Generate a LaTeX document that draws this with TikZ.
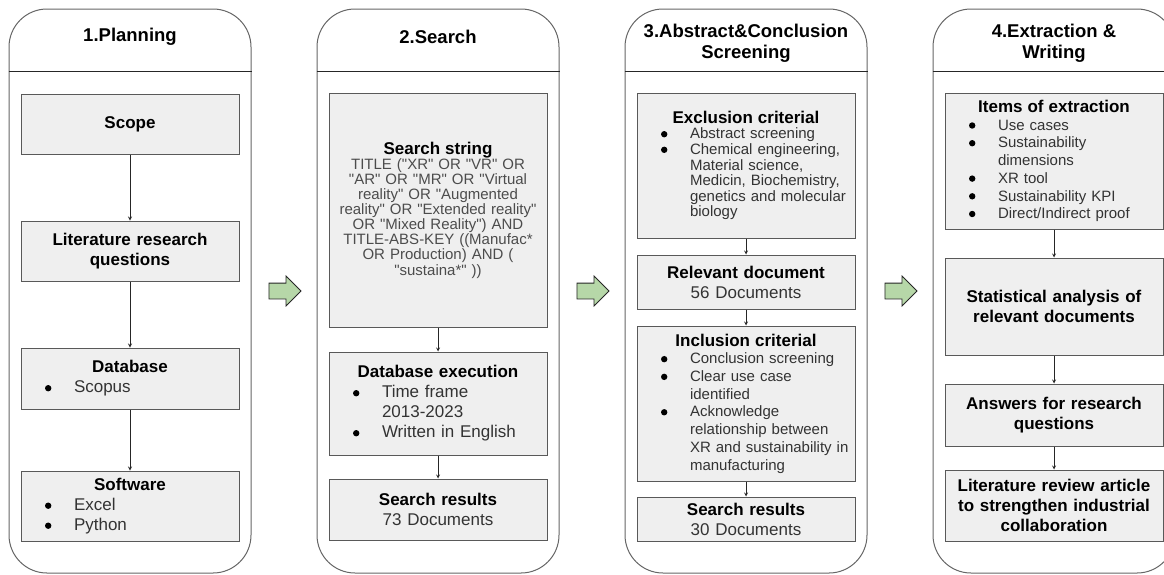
\documentclass[tikz,border=0pt]{standalone}
\usepackage{fontspec}
\newfontfamily\arial{Liberation Sans}
\usetikzlibrary{positioning,shapes.arrows}
\definecolor{leaf}{HTML}{B6D7A8}
\definecolor{boxfill}{HTML}{EFEFEF}
\definecolor{boxedge}{HTML}{595959}
\newcommand{\dotmark}{\raisebox{1.5pt}{\tikz\fill[black] (0,0) circle (3.2pt);}}
\newcommand{\bhead}[1]{{\centering\noindent\fontsize{17}{20}\selectfont\bfseries\color{black}#1\par}}
\newcommand{\bcen}[1]{{\centering\noindent#1\par}}
\newcommand{\bitem}[1]{\noindent\makebox[53pt][l]{\hspace{24pt}\dotmark}#1\par}
\newcommand{\bmore}[1]{\noindent\hspace*{53pt}#1\par}
\tikzstyle{lane} = [rectangle, rounded corners=38pt, draw=black!60, line width=1pt, minimum width=242pt, minimum height=564pt]
\tikzstyle{lanetitle} = [font=\arial\fontsize{18.5}{20.5}\selectfont\bfseries, align=center, inner sep=0pt]
\tikzstyle{process} = [rectangle, draw=boxedge, fill=boxfill, line width=1pt, minimum width=218pt, text width=218pt, inner xsep=0pt, inner ysep=0pt, align=left, text=black!80, font=\arial\fontsize{17}{20}\selectfont]
\tikzstyle{tightlist} = [font=\arial\fontsize{15}{15.6}\selectfont]
\tikzstyle{list} = [font=\arial\fontsize{15}{17.7}\selectfont]
\tikzstyle{query} = [text=black!70, font=\arial\fontsize{15}{15.1}\selectfont]
\tikzstyle{arrow} = [->,>=stealth, line width=0.8pt, black!85]
\tikzstyle{nextstep} = [single arrow, draw=black!85, fill=leaf, line width=0.8pt, minimum height=32pt, inner xsep=0pt, inner ysep=7.5pt, single arrow head extend=7pt, single arrow head indent=0pt, xshift=-3pt]

\begin{document}
\begin{tikzpicture}[x=1pt,y=-1pt]
\useasboundingbox (0,0) rectangle (1164,574);
% lanes
\node (plan) [lane] at (130,291) {};
\node (search) [lane, right=65pt of plan] {};
\node (screen) [lane, right=65pt of search] {};
\node (extract) [lane, right=65pt of screen] {};
\draw [line width=1pt, black!85] ([yshift=-63pt]plan.north west) -- ([yshift=-63pt]plan.north east);
\draw [line width=1pt, black!85] ([yshift=-63pt]search.north west) -- ([yshift=-63pt]search.north east);
\draw [line width=1pt, black!85] ([yshift=-63pt]screen.north west) -- ([yshift=-63pt]screen.north east);
\draw [line width=1pt, black!85] ([yshift=-63pt]extract.north west) -- ([yshift=-63pt]extract.north east);
\node (t1) [lanetitle] at ([yshift=-28pt]plan.north) {1.Planning};
\node (t2) [lanetitle] at ([yshift=-28pt]search.north) {2.Search};
\node (t3) [lanetitle] at ([yshift=-35pt]screen.north) {3.Abstract\&Conclusion\\Screening};
\node (t4) [lanetitle] at ([yshift=-35pt]extract.north) {4.Extraction \&\\Writing};
% 1.Planning
\node (scope) [process, minimum height=60pt, below=85pt of plan.north] {\bhead{Scope}};
\node (litrq) [process, minimum height=60pt, below=66pt of scope] {\bhead{Literature research}\bhead{questions}};
\node (db) [process, minimum height=61pt, below=66pt of litrq] {\bhead{Database}\bitem{Scopus}};
\node (soft) [process, minimum height=70pt, below=61pt of db] {\bhead{Software}\bitem{Excel}\bitem{Python}};
% 2.Search
\node (string) [process, query, minimum height=234pt, below=84pt of search.north] {\bhead{Search string}\bcen{TITLE ("XR" OR "VR" OR}\bcen{"AR" OR "MR" OR "Virtual}\bcen{reality" OR "Augmented}\bcen{reality" OR "Extended reality"}\bcen{OR "Mixed Reality") AND}\bcen{TITLE-ABS-KEY ((Manufac*}\bcen{OR Production) AND (}\bcen{"sustaina*" ))}};
\node (exec) [process, minimum height=103pt, below=24pt of string] {\bhead{Database execution}\bitem{Time frame}\bmore{2013-2023}\bitem{Written in English}};
\node (found) [process, minimum height=61pt, below=23pt of exec] {\bhead{Search results}\bcen{73 Documents}};
% 3.Screening
\node (excl) [process, tightlist, minimum height=145pt, below=84pt of screen.north] {\bhead{Exclusion criterial}\bitem{Abstract screening}\bitem{Chemical engineering,}\bmore{Material science,}\bmore{Medicin, Biochemistry,}\bmore{genetics and molecular}\bmore{biology}};
\node (rel) [process, minimum height=54pt, below=16pt of excl] {\bhead{Relevant document}\bcen{56 Documents}};
\node (incl) [process, list, minimum height=155pt, below=16pt of rel] {\bhead{Inclusion criterial}\bitem{Conclusion screening}\bitem{Clear use case}\bmore{identified}\bitem{Acknowledge}\bmore{relationship between}\bmore{XR and sustainability in}\bmore{manufacturing}};
\node (kept) [process, minimum height=44pt, below=15pt of incl] {\bhead{Search results}\bcen{30 Documents}};
% 4.Extraction
\node (items) [process, list, minimum height=136pt, below=84pt of extract.north] {\bhead{Items of extraction}\bitem{Use cases}\bitem{Sustainability}\bmore{dimensions}\bitem{XR tool}\bitem{Sustainability KPI}\bitem{Direct/Indirect proof}};
\node (stat) [process, minimum height=97pt, below=28pt of items] {\bhead{Statistical analysis of}\bhead{relevant documents}};
\node (answ) [process, minimum height=62pt, below=28pt of stat] {\bhead{Answers for research}\bhead{questions}};
\node (review) [process, minimum height=71pt, below=23pt of answ] {\bhead{Literature review article}\bhead{to strengthen industrial}\bhead{collaboration}};
% connectors
\draw [arrow] (scope) -- (litrq);
\draw [arrow] (litrq) -- (db);
\draw [arrow] (db) -- (soft);
\draw [arrow] (string) -- (exec);
\draw [arrow] (exec) -- (found);
\draw [arrow] (excl) -- (rel);
\draw [arrow] (rel) -- (incl);
\draw [arrow] (incl) -- (kept);
\draw [arrow] (items) -- (stat);
\draw [arrow] (stat) -- (answ);
\draw [arrow] (answ) -- (review);
% green arrows between lanes
\path (plan) -- node (go1) [nextstep] {} (search);
\path (search) -- node (go2) [nextstep] {} (screen);
\path (screen) -- node (go3) [nextstep] {} (extract);
\end{tikzpicture}
\end{document}
